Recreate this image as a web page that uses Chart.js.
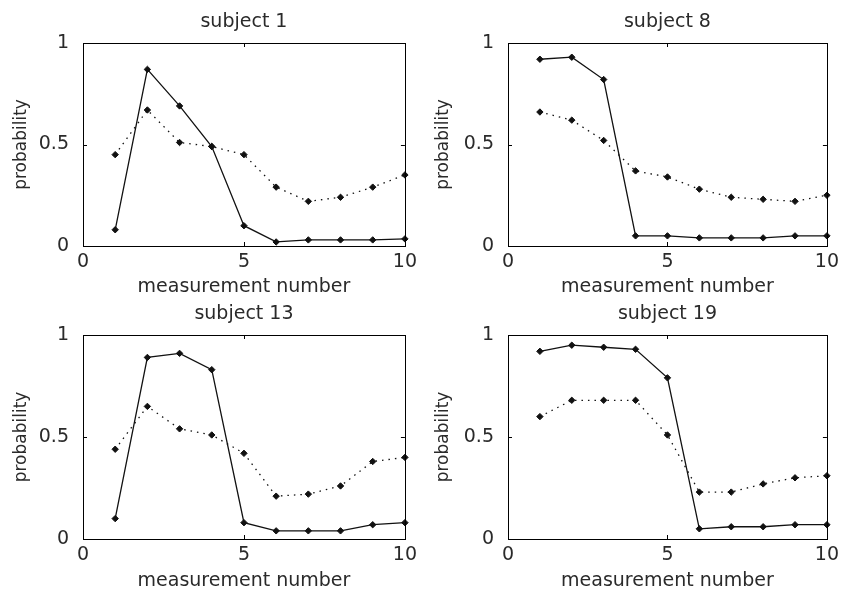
<!DOCTYPE html>
<html>
<head>
<meta charset="utf-8">
<script src="https://cdn.jsdelivr.net/npm/chart.js@4.4.1/dist/chart.umd.min.js"></script>
<style>
  body { margin: 0; background: #fff; overflow: hidden; width: 844px; height: 591px; position: relative; }
  canvas { position: absolute; }
</style>
</head>
<body>
<canvas id="c1" width="422" height="300" style="left:0;top:0"></canvas>
<canvas id="c2" width="422" height="300" style="left:422px;top:0"></canvas>
<canvas id="c3" width="422" height="300" style="left:0;top:295px"></canvas>
<canvas id="c4" width="422" height="300" style="left:422px;top:295px"></canvas>
<script>
const measurements = [1, 2, 3, 4, 5, 6, 7, 8, 9, 10];
const xTickStep = 5;
const yTickStep = 0.5;

const subject1Solid  = [0.08, 0.87, 0.69, 0.49, 0.10, 0.02, 0.03, 0.03, 0.03, 0.035];
const subject1Dotted = [0.45, 0.67, 0.51, 0.49, 0.45, 0.29, 0.22, 0.24, 0.29, 0.35];
const subject8Solid  = [0.92, 0.93, 0.82, 0.05, 0.05, 0.04, 0.04, 0.04, 0.05, 0.05];
const subject8Dotted = [0.66, 0.62, 0.52, 0.37, 0.34, 0.28, 0.24, 0.23, 0.22, 0.25];
const subject13Solid  = [0.10, 0.89, 0.91, 0.83, 0.08, 0.04, 0.04, 0.04, 0.07, 0.08];
const subject13Dotted = [0.44, 0.65, 0.54, 0.51, 0.42, 0.21, 0.22, 0.26, 0.38, 0.40];
const subject19Solid  = [0.92, 0.95, 0.94, 0.93, 0.79, 0.05, 0.06, 0.06, 0.07, 0.07];
const subject19Dotted = [0.60, 0.68, 0.68, 0.68, 0.51, 0.23, 0.23, 0.27, 0.30, 0.31];

const FONT = "'DejaVu Sans', sans-serif";
const INK = '#111';
const TEXT = '#2a2a2a';

// frame box + inward ticks, like the old matlab axes
const framePlugin = {
  id: 'frame',
  afterDraw(chart) {
    const ctx = chart.ctx;
    const a = chart.chartArea;
    const xs = chart.scales.x, ys = chart.scales.y;
    ctx.save();
    ctx.strokeStyle = '#000';
    ctx.lineWidth = 1;
    ctx.strokeRect(Math.round(a.left) + 0.5, Math.round(a.top) + 0.5,
      Math.round(a.right - a.left), Math.round(a.bottom - a.top));
    ctx.beginPath();
    xs.ticks.forEach(t => {
      const px = Math.round(xs.getPixelForValue(t.value)) + 0.5;
      ctx.moveTo(px, a.bottom); ctx.lineTo(px, a.bottom - 4);
      ctx.moveTo(px, a.top); ctx.lineTo(px, a.top + 4);
    });
    ys.ticks.forEach(t => {
      const py = Math.round(ys.getPixelForValue(t.value)) + 0.5;
      ctx.moveTo(a.left, py); ctx.lineTo(a.left + 4, py);
      ctx.moveTo(a.right, py); ctx.lineTo(a.right - 4, py);
    });
    ctx.stroke();
    // subplot title centred over the axes box
    const title = chart.options.plugins.frame.title;
    ctx.fillStyle = TEXT;
    ctx.font = '19px ' + FONT;
    ctx.textAlign = 'center';
    ctx.textBaseline = 'middle';
    ctx.fillText(title, (a.left + a.right) / 2, a.top - 21);
    ctx.restore();
  }
};

function makePanel(id, title, solid, dotted, box) {
  const ds = (data, dashed) => ({
    data: data,
    borderColor: INK,
    backgroundColor: INK,
    borderWidth: 1.3,
    borderDash: dashed ? [1.5, 5] : [],
    pointStyle: 'rectRot',
    pointRadius: 3.2,
    pointBorderWidth: 1,
    pointBackgroundColor: INK,
    pointBorderColor: INK,
    tension: 0,
    clip: false
  });
  new Chart(document.getElementById(id), {
    type: 'line',
    data: {
      labels: measurements,
      datasets: [ds(solid, false), ds(dotted, true)]
    },
    plugins: [framePlugin],
    options: {
      responsive: false,
      animation: false,
      layout: { padding: { top: box.top, right: box.right, left: 0, bottom: 0 } },
      plugins: {
        legend: { display: false },
        tooltip: { enabled: false },
        frame: { title: title }
      },
      scales: {
        x: {
          type: 'linear',
          min: 0, max: 10,
          grid: { display: false, drawTicks: false },
          border: { display: false },
          ticks: { stepSize: xTickStep, padding: 5, color: TEXT, font: { family: FONT, size: 19 } },
          title: { display: true, text: 'measurement number', color: TEXT,
                   font: { family: FONT, size: 19 }, padding: { top: 0, bottom: box.xTitlePad } },
          afterFit: s => { s.height = box.xHeight; }
        },
        y: {
          min: 0, max: 1,
          grid: { display: false, drawTicks: false },
          border: { display: false },
          ticks: { stepSize: yTickStep, padding: 14, color: TEXT, font: { family: FONT, size: 19 },
                   callback: v => String(v) },
          title: { display: true, text: 'probability', color: TEXT,
                   font: { family: FONT, size: 17 }, padding: { top: 11, bottom: 0 } },
          afterFit: s => { s.width = box.left; }
        }
      }
    }
  });
}

makePanel('c1', 'subject 1', subject1Solid, subject1Dotted,
  { left: 83, right: 15, top: 43, xHeight: 54, xTitlePad: 2 });
makePanel('c2', 'subject 8', subject8Solid, subject8Dotted,
  { left: 86, right: 13, top: 43, xHeight: 54, xTitlePad: 2 });
makePanel('c3', 'subject 13', subject13Solid, subject13Dotted,
  { left: 83, right: 15, top: 40, xHeight: 56, xTitlePad: 2.5 });
makePanel('c4', 'subject 19', subject19Solid, subject19Dotted,
  { left: 86, right: 13, top: 40, xHeight: 56, xTitlePad: 2.5 });
</script>
</body>
</html>
